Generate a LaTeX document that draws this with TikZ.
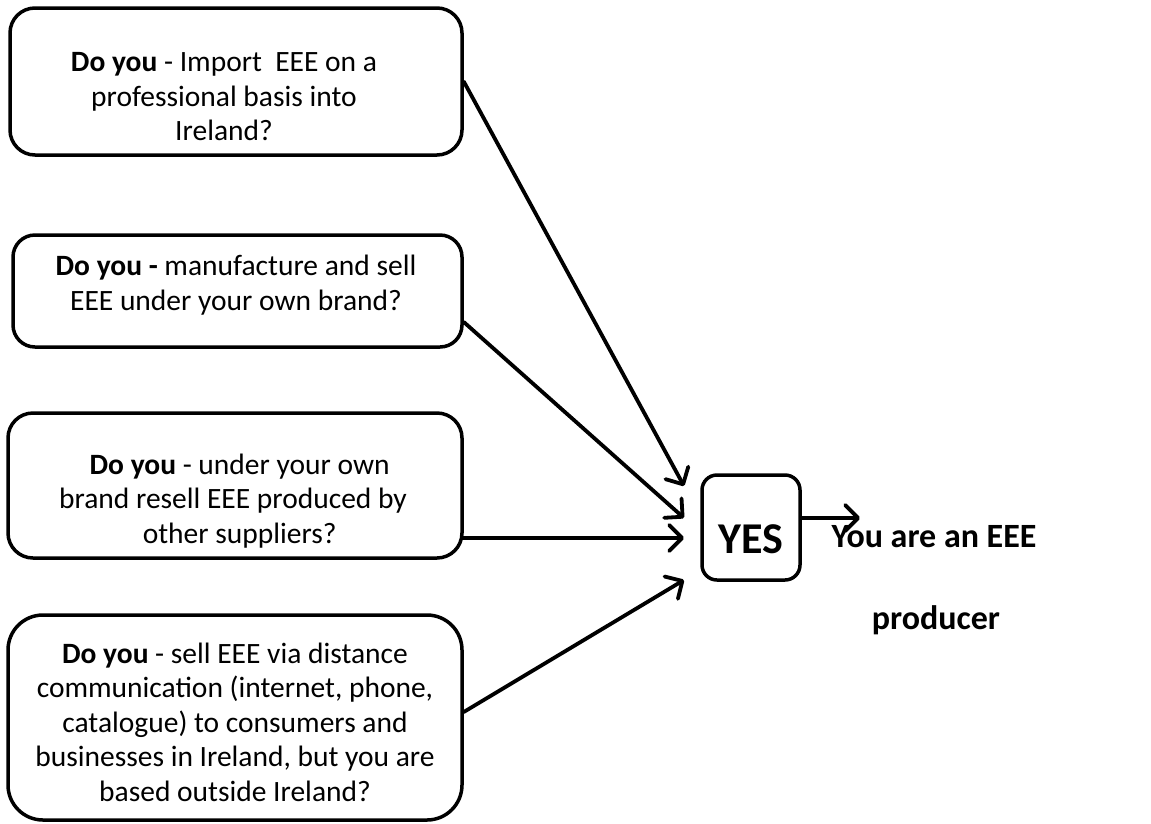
\documentclass[tikz,border=0pt]{standalone}
\usepackage{fontspec}
\setmainfont{Carlito}
\usetikzlibrary{arrows.meta,calc}
\begin{document}
\begin{tikzpicture}[x=1pt,y=-1pt,
  qbox/.style={draw,line width=3.5pt,rounded corners=#1,inner sep=0pt},
  qtext/.style={align=center,inner sep=0pt,font=\fontsize{29.5}{34.5}\selectfont},
  conn/.style={line width=3.8pt,line cap=round,-{Straight Barb[length=13pt,width=26pt,line width=3.8pt,round]}},
  bigtext/.style={inner sep=0pt,font=\fontsize{34}{40}\selectfont\bfseries}]
\useasboundingbox (0,0) rectangle (1151,823);
% question boxes
\node[qbox=25pt,minimum width=452pt,minimum height=147pt] (b1) at (236,81.5) {};
\node[qbox=22pt,minimum width=449pt,minimum height=112pt] (b2) at (237.5,291) {};
\node[qbox=25pt,minimum width=454pt,minimum height=145pt] (b3) at (235,485.5) {};
\node[qbox=35pt,minimum width=454pt,minimum height=205pt] (b4) at (235,717.5) {};
% texts
\node[qtext] (t1) at (224,97) {\textbf{Do you} - Import\ \ EEE on a\\professional basis into\\Ireland?};
\node[qtext] (t2) at (236,285) {\textbf{Do you -} manufacture and sell\\EEE under your own brand?};
\node[qtext] (t3) at (233,501) {\ \ \textbf{Do you} - under your own\\brand resell EEE produced by\\\ \ other suppliers?};
\node[qtext] (t4) at (235,722) {\textbf{Do you} - sell EEE via distance\\communication (internet, phone,\\catalogue) to consumers and\\businesses in Ireland, but you are\\based outside Ireland?};
% yes box
\node[qbox=15pt,minimum width=98pt,minimum height=105pt,text height=58pt,text depth=7pt,font=\fontsize{44}{50}\selectfont\bfseries] (yes) at (751,527.5) {YES};
% result text
\node[bigtext] (r1) at (934,537) {You are an EEE};
\node[bigtext] (r2) at (936,620) {producer};
% arrow end points
\coordinate (e1) at (684,486);
\coordinate (e2) at (684,518);
\coordinate (e3) at (684,538);
\coordinate (e4) at (684,580);
\coordinate (e5) at (860,518);
\draw[conn] (b1.east) -- (e1);
\draw[conn] (b2.east |- {(0,322)}) -- (e2);
\draw[conn] (b3.east |- e3) -- (e3);
\draw[conn] (b4.east |- {(0,712)}) -- (e4);
\draw[conn] (yes.east |- e5) -- (e5);
\end{tikzpicture}
\end{document}
